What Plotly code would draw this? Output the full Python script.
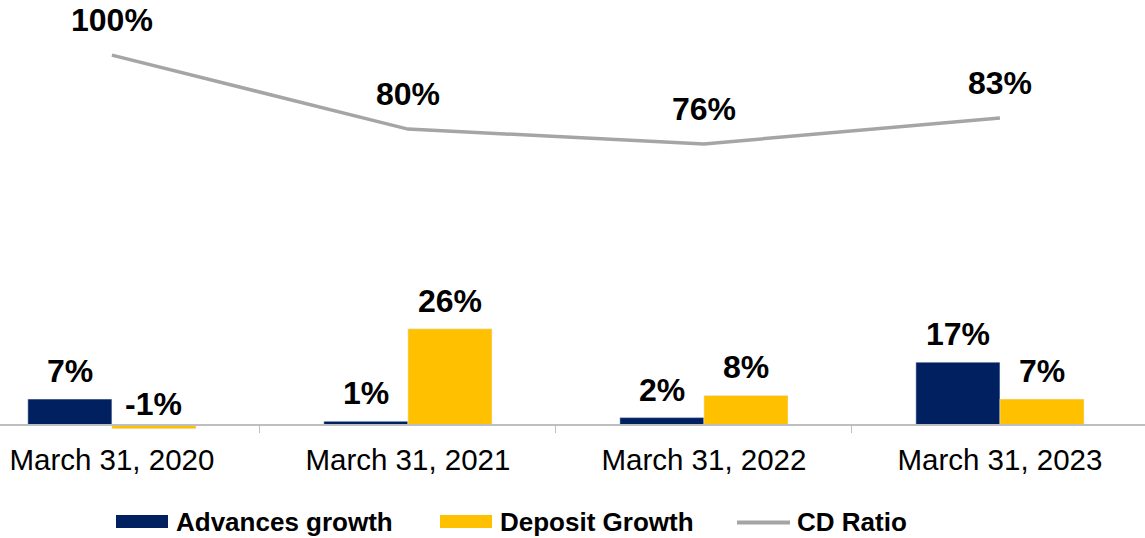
import plotly.graph_objects as go

categories = ["March 31, 2020", "March 31, 2021", "March 31, 2022", "March 31, 2023"]
advances   = [7, 1, 2, 17]
deposits   = [-1, 26, 8, 7]
cd_ratio   = [100, 80, 76, 83]
series     = ["Advances growth", "Deposit Growth", "CD Ratio"]

navy, gold, grey = "#002060", "#FFC000", "#A5A5A5"
font = "Liberation Sans, Arial, sans-serif"

W, H, T, B = 1145, 538, 10, 108
def px(x):          # pixel -> paper x
    return x / W
def py(y):          # pixel -> paper y
    return (H - B - y) / (H - T - B)

fig = go.Figure()
fig.add_trace(go.Bar(x=categories, y=advances, name=series[0], marker_color=navy))
fig.add_trace(go.Bar(x=categories, y=deposits, name=series[1], marker_color=gold))
fig.add_trace(go.Scatter(x=categories, y=cd_ratio, name=series[2], mode="lines",
                         yaxis="y2", line=dict(color=grey, width=3.5)))

# Data labels
off = 0.142
lab = dict(size=32, color="black", family=font)
for i, (a, d, c) in enumerate(zip(advances, deposits, cd_ratio)):
    for xv, v in ((i - off, a), (i + off, d)):
        fig.add_annotation(x=xv, y=max(v, 0), xref="x", yref="y",
                           text=f"<b>{v}%</b>", showarrow=False,
                           yshift=28 if v >= 0 else 21, font=lab)
    fig.add_annotation(x=i, y=c, xref="x", yref="y2", text=f"<b>{c}%</b>",
                       showarrow=False, yshift=35, font=lab)

# Legend drawn by hand (wide swatches like the original)
leg_y = 521.5
swatches = [(116, navy, "rect"), (440, gold, "rect"), (737, grey, "line")]
for (x0, col, kind), name in zip(swatches, series):
    if kind == "rect":
        fig.add_shape(type="rect", xref="paper", yref="paper",
                      x0=px(x0), x1=px(x0 + 52), y0=py(leg_y - 6.5),
                      y1=py(leg_y + 6.5), fillcolor=col, line_width=0)
    else:
        fig.add_shape(type="line", xref="paper", yref="paper",
                      x0=px(x0), x1=px(x0 + 53), y0=py(leg_y + 1), y1=py(leg_y + 1),
                      line=dict(color=col, width=4))
    fig.add_annotation(x=px(x0 + 58), y=py(leg_y), xref="paper", yref="paper",
                       xanchor="left", yanchor="middle", showarrow=False,
                       text=f"<b>{name}</b>",
                       font=dict(size=26, color="black", family=font))

yr = [-1.35, 112.2]
fig.update_layout(
    width=W, height=H,
    margin=dict(l=0, r=0, t=T, b=B, autoexpand=False),
    plot_bgcolor="white", paper_bgcolor="white",
    barmode="group", bargap=0.432, bargroupgap=0,
    font=dict(family=font, color="black"),
    showlegend=False,
    xaxis=dict(range=[-0.378, 3.49], anchor="free", position=0.0119,
               showline=True, linecolor="#BFBFBF", linewidth=1.5,
               ticks="outside", tickson="boundaries", ticklen=7,
               tickcolor="#BFBFBF", tickfont=dict(size=29.5), showgrid=False,
               ticklabelstandoff=9, automargin=False),
    yaxis=dict(range=yr, visible=False, showgrid=False, zeroline=False),
    yaxis2=dict(range=yr, overlaying="y", visible=False, showgrid=False,
                zeroline=False),
)

# the page's default 8px body margin would shift the chart
fig.write_html("out.html", config={"displayModeBar": False},
               post_script="document.body.style.margin='0';document.body.style.overflow='hidden';")
